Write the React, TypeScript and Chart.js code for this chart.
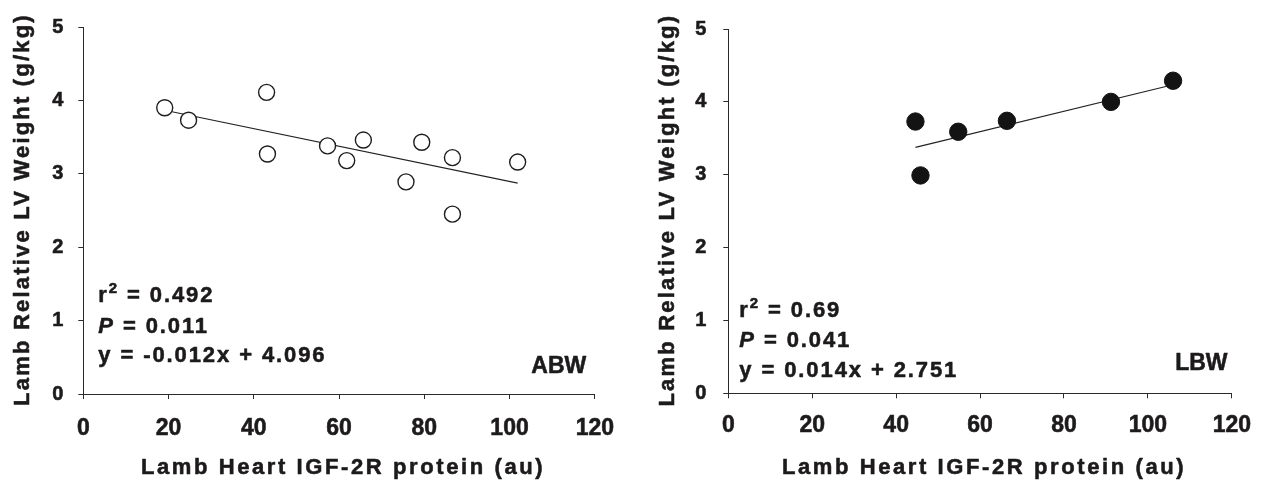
import React, { useEffect, useRef } from 'react';
import { Chart, registerables } from 'chart.js';

Chart.register(...registerables);

const FONT = "'Liberation Sans', Arial, Helvetica, sans-serif";
const TEXT = '#1c1a1b';
const AXIS = '#2a2a2a';
const STROKE = 0.55;

// ---- shared axis text ----
const xTitle = 'Lamb Heart IGF-2R protein (au)';
const yTitle = 'Lamb Relative LV Weight (g/kg)';
const xTicks = [0, 20, 40, 60, 80, 100, 120];
const yTicks = [0, 1, 2, 3, 4, 5];

// ---- ABW panel ----
const abwX = [19.1, 24.7, 43.0, 43.2, 57.3, 61.8, 65.7, 75.7, 79.4, 86.6, 86.6, 101.9];
const abwY = [3.9, 3.73, 4.11, 3.27, 3.38, 3.18, 3.46, 2.89, 3.43, 3.22, 2.45, 3.16];
const abwSlope = -0.012;
const abwIntercept = 4.096;
const abwR2 = '0.492';
const abwP = '0.011';
const abwEq = 'y = -0.012x + 4.096';
const abwLabel = 'ABW';

// ---- LBW panel ----
const lbwX = [44.6, 45.8, 54.8, 66.4, 91.2, 106.0];
const lbwY = [3.73, 2.99, 3.59, 3.74, 4.0, 4.29];
const lbwSlope = 0.014;
const lbwIntercept = 2.751;
const lbwR2 = '0.69';
const lbwP = '0.041';
const lbwEq = 'y = 0.014x + 2.751';
const lbwLabel = 'LBW';

type Geo = {
  width: number;
  padTop: number;
  padRight: number;
  yWidth: number;
  xHeight: number;
  xTickPad: number;
  yTickPad: number;
  yTitleX: number;
  xTitleY: number;
  xTitleDx: number;
  statsDx: number;
  statsDy: number[];
  labelDx: number;
  labelDy: number;
  filled: boolean;
  radius: number;
};

type PanelProps = {
  xs: number[];
  ys: number[];
  slope: number;
  intercept: number;
  r2: string;
  p: string;
  eq: string;
  label: string;
  geo: Geo;
  left: number;
};

function Panel({ xs, ys, slope, intercept, r2, p, eq, label, geo, left }: PanelProps) {
  const ref = useRef<HTMLCanvasElement | null>(null);

  useEffect(() => {
    if (!ref.current) return;
    const pts = xs.map((x, i) => ({ x, y: ys[i] }));
    const xmin = Math.min(...xs);
    const xmax = Math.max(...xs);
    const fit = [
      { x: xmin, y: slope * xmin + intercept },
      { x: xmax, y: slope * xmax + intercept },
    ];

    const textPlugin = {
      id: 'panelText',
      afterDraw(chart: any) {
        const { ctx, chartArea: a } = chart;
        ctx.save();
        ctx.fillStyle = TEXT;
        ctx.strokeStyle = TEXT;
        ctx.lineWidth = STROKE;
        ctx.lineJoin = 'round';
        const put = (t: string, x: number, y: number) => {
          ctx.fillText(t, x, y);
          ctx.strokeText(t, x, y);
        };
        const bold = `bold 22px ${FONT}`;
        // axis titles
        ctx.font = bold;
        (ctx as any).letterSpacing = '2.6px';
        ctx.textAlign = 'center';
        ctx.textBaseline = 'middle';
        put(xTitle, (a.left + a.right) / 2 + geo.xTitleDx, geo.xTitleY);
        ctx.save();
        ctx.translate(geo.yTitleX, (a.top + a.bottom) / 2 - 1);
        ctx.rotate(-Math.PI / 2);
        (ctx as any).letterSpacing = '2.2px';
        put(yTitle, 0, 0);
        ctx.restore();

        // statistics
        ctx.textAlign = 'left';
        ctx.textBaseline = 'alphabetic';
        (ctx as any).letterSpacing = '1.9px';
        const x0 = a.left + geo.statsDx;
        const y1 = a.bottom + geo.statsDy[0];
        const y2 = a.bottom + geo.statsDy[1];
        const y3 = a.bottom + geo.statsDy[2];
        ctx.font = bold;
        put('r', x0, y1);
        let w = ctx.measureText('r').width;
        ctx.font = `bold 15px ${FONT}`;
        put('2', x0 + w, y1 - 8.5);
        w += ctx.measureText('2').width;
        ctx.font = bold;
        put(' = ' + r2, x0 + w, y1);

        ctx.font = `italic bold 22px ${FONT}`;
        put('P', x0, y2);
        w = ctx.measureText('P').width;
        ctx.font = bold;
        put(' = ' + p, x0 + w, y2);

        put(eq, x0, y3);

        // group label
        (ctx as any).letterSpacing = '0px';
        ctx.font = `bold 23px ${FONT}`;
        ctx.textAlign = 'right';
        put(label, a.right + geo.labelDx, a.bottom + geo.labelDy);
        ctx.restore();
      },
    };

    const chart = new Chart(ref.current, {
      type: 'scatter',
      data: {
        datasets: [
          {
            data: pts,
            pointRadius: geo.radius,
            pointHoverRadius: geo.radius,
            pointBorderWidth: geo.filled ? 1 : 1.4,
            pointBackgroundColor: geo.filled ? '#131313' : '#ffffff',
            pointBorderColor: geo.filled ? '#131313' : '#1e1e1e',
            showLine: false,
          },
          {
            data: fit,
            showLine: true,
            borderColor: '#222222',
            borderWidth: 1.1,
            pointRadius: 0,
            fill: false,
          },
        ],
      } as any,
      options: {
        animation: false,
        responsive: false,
        maintainAspectRatio: false,
        layout: { padding: { top: geo.padTop, right: geo.padRight, left: 0, bottom: 0 } },
        plugins: { legend: { display: false }, tooltip: { enabled: false } },
        scales: {
          x: {
            type: 'linear',
            min: 0,
            max: 120,
            afterBuildTicks: (s: any) => {
              s.ticks = xTicks.map((v) => ({ value: v }));
            },
            afterFit: (s: any) => {
              s.height = geo.xHeight;
            },
            ticks: {
              color: TEXT,
              textStrokeColor: TEXT,
              textStrokeWidth: STROKE,
              font: { family: FONT, size: 23, weight: 'bold' },
              padding: geo.xTickPad,
              maxRotation: 0,
            },
            grid: { drawOnChartArea: false, drawTicks: true, tickLength: 5, color: AXIS, lineWidth: 1 },
            border: { display: true, color: AXIS, width: 1 },
          },
          y: {
            type: 'linear',
            min: 0,
            max: 5,
            afterBuildTicks: (s: any) => {
              s.ticks = yTicks.map((v) => ({ value: v }));
            },
            afterFit: (s: any) => {
              s.width = geo.yWidth;
            },
            ticks: {
              color: TEXT,
              textStrokeColor: TEXT,
              textStrokeWidth: STROKE,
              font: { family: FONT, size: 20, weight: 'bold' },
              padding: geo.yTickPad,
            },
            grid: { drawOnChartArea: false, drawTicks: true, tickLength: 5, color: AXIS, lineWidth: 1 },
            border: { display: true, color: AXIS, width: 1 },
          },
        },
      } as any,
      plugins: [textPlugin],
    });
    return () => chart.destroy();
  }, []);

  return (
    <canvas
      ref={ref}
      width={geo.width}
      height={482}
      style={{ position: 'absolute', left, top: 0, width: geo.width, height: 482 }}
    />
  );
}

const abwGeo: Geo = {
  width: 630,
  padTop: 26,
  padRight: 24.7,
  yWidth: 83.3,
  xHeight: 88,
  xTickPad: 16,
  yTickPad: 15,
  yTitleX: 22.5,
  xTitleY: 467.8,
  xTitleDx: 4,
  statsDx: 15,
  statsDy: [-92.3, -61.3, -32.3],
  labelDx: -8.6,
  labelDy: -20.7,
  filled: false,
  radius: 8,
};

const lbwGeo: Geo = {
  width: 635,
  padTop: 19,
  padRight: 20.7,
  yWidth: 98.3,
  xHeight: 88.7,
  xTickPad: 14,
  yTickPad: 17,
  yTitleX: 37.5,
  xTitleY: 468,
  xTitleDx: 4,
  statsDx: 11,
  statsDy: [-76.6, -46.6, -16.6],
  labelDx: -4.3,
  labelDy: -23.3,
  filled: true,
  radius: 8.7,
};

export default function App() {
  return (
    <div
      style={{
        position: 'fixed',
        left: 0,
        top: 0,
        width: 1265,
        height: 482,
        background: '#ffffff',
        overflow: 'hidden',
      }}
    >
      <Panel
        xs={abwX}
        ys={abwY}
        slope={abwSlope}
        intercept={abwIntercept}
        r2={abwR2}
        p={abwP}
        eq={abwEq}
        label={abwLabel}
        geo={abwGeo}
        left={0}
      />
      <Panel
        xs={lbwX}
        ys={lbwY}
        slope={lbwSlope}
        intercept={lbwIntercept}
        r2={lbwR2}
        p={lbwP}
        eq={lbwEq}
        label={lbwLabel}
        geo={lbwGeo}
        left={630}
      />
    </div>
  );
}
